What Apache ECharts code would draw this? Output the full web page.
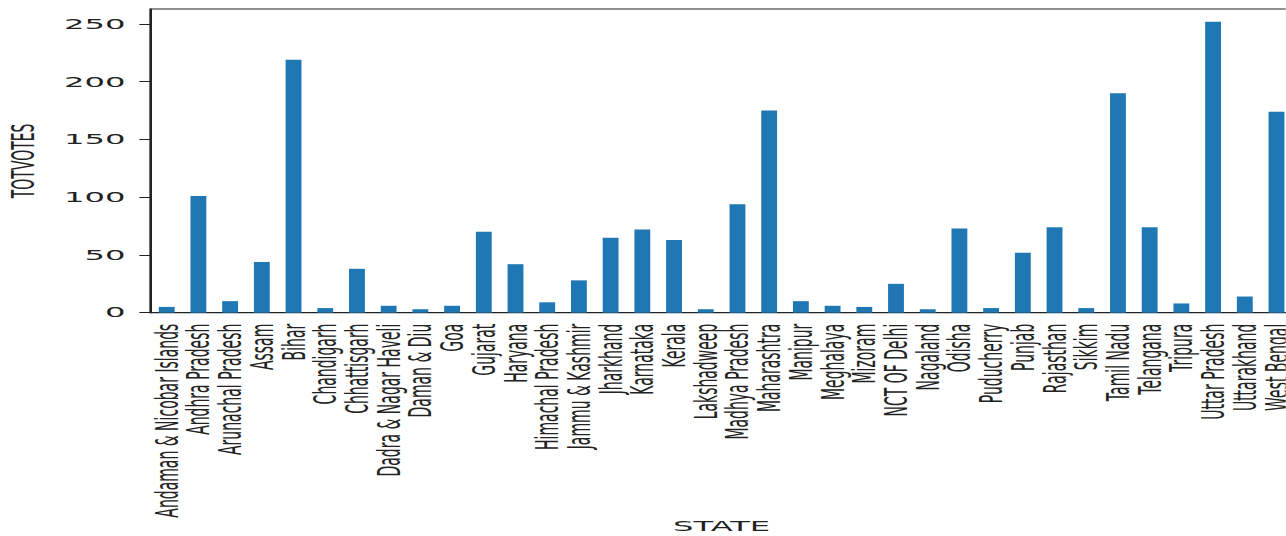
<!DOCTYPE html>
<html>
<head>
<meta charset="utf-8">
<script src="https://cdn.jsdelivr.net/npm/echarts@6/dist/echarts.min.js"></script>
<style>
	html, body { margin: 0; padding: 0; background: #fff; overflow: hidden; }
	/* the picture is a stretched figure: draw narrow, then widen it */
	#chart {
		width: 559.13px;
		height: 536px;
		transform: scaleX(2.3);
		transform-origin: 0 0;
	}
</style>
</head>
<body>
<div id="chart"></div>
<script>
	var states = [
		'Andaman & Nicobar Islands', 'Andhra Pradesh', 'Arunachal Pradesh', 'Assam', 'Bihar',
		'Chandigarh', 'Chhattisgarh', 'Dadra & Nagar Haveli', 'Daman & Diu', 'Goa',
		'Gujarat', 'Haryana', 'Himachal Pradesh', 'Jammu & Kashmir', 'Jharkhand',
		'Karnataka', 'Kerala', 'Lakshadweep', 'Madhya Pradesh', 'Maharashtra',
		'Manipur', 'Meghalaya', 'Mizoram', 'NCT OF Delhi', 'Nagaland',
		'Odisha', 'Puducherry', 'Punjab', 'Rajasthan', 'Sikkim',
		'Tamil Nadu', 'Telangana', 'Tripura', 'Uttar Pradesh', 'Uttarakhand',
		'West Bengal'
	];

	var totVotes = [
		5, 101, 10, 44, 219,
		4, 38, 6, 3, 6,
		70, 42, 9, 28, 65,
		72, 63, 3, 94, 175,
		10, 6, 5, 25, 3,
		73, 4, 52, 74, 4,
		190, 74, 8, 252, 14,
		174
	];

	var yTicks = [0, 50, 100, 150, 200, 250];

	var font = 'DejaVu Sans';
	var ink = '#222';

	var chart = echarts.init(document.getElementById('chart'), null, {renderer: 'svg'});

	var option = {
		backgroundColor: '#fff',
		animation: false,
		color: ['#1f77b4'],
		grid: {
			left: 65.59,
			top: 9,
			width: 496.3,
			height: 303.7,
			show: true,
			borderColor: ink,
			borderWidth: 1,
			containLabel: false,
			// keep the grid where it is, labels may run past the edge
			outerBoundsMode: 'none'
		},
		xAxis: {
			type: 'category',
			data: states,
			name: 'STATE',
			nameLocation: 'middle',
			nameGap: 207,
			nameMoveOverlap: false,
			nameTextStyle: {
				fontFamily: font,
				fontSize: 14,
				color: ink
			},
			axisLine: {
				lineStyle: {color: ink, width: 1}
			},
			axisTick: {
				alignWithLabel: true,
				length: 5,
				lineStyle: {color: ink}
			},
			axisLabel: {
				interval: 0,
				rotate: 90,
				margin: 11,
				fontFamily: font,
				fontSize: 14,
				color: ink
			},
			splitLine: {show: false}
		},
		yAxis: {
			type: 'value',
			min: 0,
			max: 263,
			interval: 50,
			name: 'TOTVOTES',
			nameLocation: 'middle',
			nameRotate: 90,
			nameGap: 47,
			nameTextStyle: {
				fontFamily: font,
				fontSize: 14,
				color: ink
			},
			axisLine: {
				show: true,
				lineStyle: {color: ink, width: 1}
			},
			axisTick: {
				show: true,
				length: 5,
				customValues: yTicks,
				lineStyle: {color: ink}
			},
			axisLabel: {
				margin: 11,
				customValues: yTicks,
				fontFamily: font,
				fontSize: 14,
				color: ink
			},
			splitLine: {show: false}
		},
		series: [{
			name: 'TOTVOTES',
			type: 'bar',
			barWidth: '50%',
			data: totVotes
		}]
	};

	chart.setOption(option);
</script>
</body>
</html>
